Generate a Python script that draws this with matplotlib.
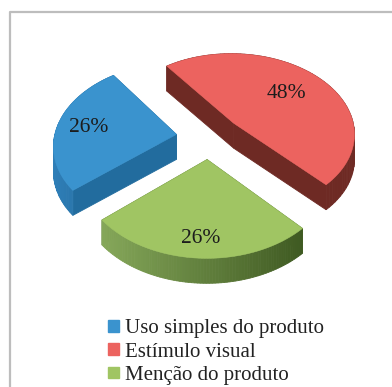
import numpy as np
import matplotlib
matplotlib.use('Agg')
import matplotlib.pyplot as plt
from matplotlib.colors import to_rgb
from matplotlib.patches import Patch

labels = ['Uso simples do produto', 'Estímulo visual', 'Menção do produto']
values = [26, 48, 26]
top_colors = ['#3A93CE', '#EC635F', '#A0C563']
cut_colors = ['#226C9E', '#6E2A24', '#587A30']
arc_left = ['#2F7FB8', '#6E2A24', '#86A85A']
arc_right = ['#22689A', '#6E2A24', '#3F5A22']
label_dist = [0.74, 0.62, 0.82]

# projection of the tilted pie
cx, cy = 209, 137
rx, ry = 122, 81
persp = 0.12
explode = 0.27
depth = 25
start = 220.0


def project(x, y):
    s = 1 / (1 + persp * y)
    return cx + rx * x * s, cy - ry * y * s


fig = plt.figure(figsize=(3.92, 3.87), dpi=100)
ax = fig.add_axes([0, 0, 1, 1])
ax.set_xlim(0, 392)
ax.set_ylim(387, 0)
ax.axis('off')

# chart frame, open on the right and at the bottom
ax.plot([10.5, 10.5, 392], [387, 12, 12], color='#BDBDBD', lw=1.6)

angles = start - np.cumsum([0] + values) * 3.6
wedges = []
for i in range(3):
    a0, a1 = np.radians(angles[i]), np.radians(angles[i + 1])
    mid = (a0 + a1) / 2
    ox, oy = explode * np.cos(mid), explode * np.sin(mid)
    t = np.linspace(a0, a1, 80)
    wedges.append((i, ox, oy, t, mid))

# back pieces first so the front ones overlap them
for i, ox, oy, t, mid in sorted(wedges, key=lambda w: -w[2]):
    px, py = project(ox + np.cos(t), oy + np.sin(t))
    ax0, ay0 = project(ox, oy)
    xs = np.r_[ax0, px, ax0]
    ys = np.r_[ay0, py, ay0]

    left, right = np.array(to_rgb(arc_left[i])), np.array(to_rgb(arc_right[i]))
    faces = []
    for k in range(len(xs) - 1):
        if k == 0 or k == len(xs) - 2:
            col = cut_colors[i]
        else:
            f = (xs[k] - px.min()) / (px.max() - px.min())
            col = left + (right - left) * f
        faces.append((ys[k] + ys[k + 1], k, col))
    for _, k, col in sorted(faces, key=lambda f: f[:2]):
        ax.fill([xs[k], xs[k + 1], xs[k + 1], xs[k]],
                [ys[k], ys[k + 1], ys[k + 1] + depth, ys[k] + depth],
                color=col, lw=0.6)
    ax.fill(xs, ys, color=top_colors[i], lw=0.4)

    lx, ly = project(ox + label_dist[i] * np.cos(mid), oy + label_dist[i] * np.sin(mid))
    ax.text(lx, ly, '%d%%' % values[i], ha='center', va='center',
            family='Liberation Serif', fontsize=15.5, color='#1c1c1c')

handles = [Patch(color=c) for c in top_colors]
ax.legend(handles, labels, loc='lower left', bbox_to_anchor=(104 / 392, -2 / 387),
          frameon=False, prop={'family': 'Liberation Serif', 'size': 15},
          handlelength=0.5, handleheight=0.5, handletextpad=0.3,
          labelspacing=0.2, labelcolor='#222222', borderpad=0.2, borderaxespad=0)

plt.savefig('out.png', dpi=100)
